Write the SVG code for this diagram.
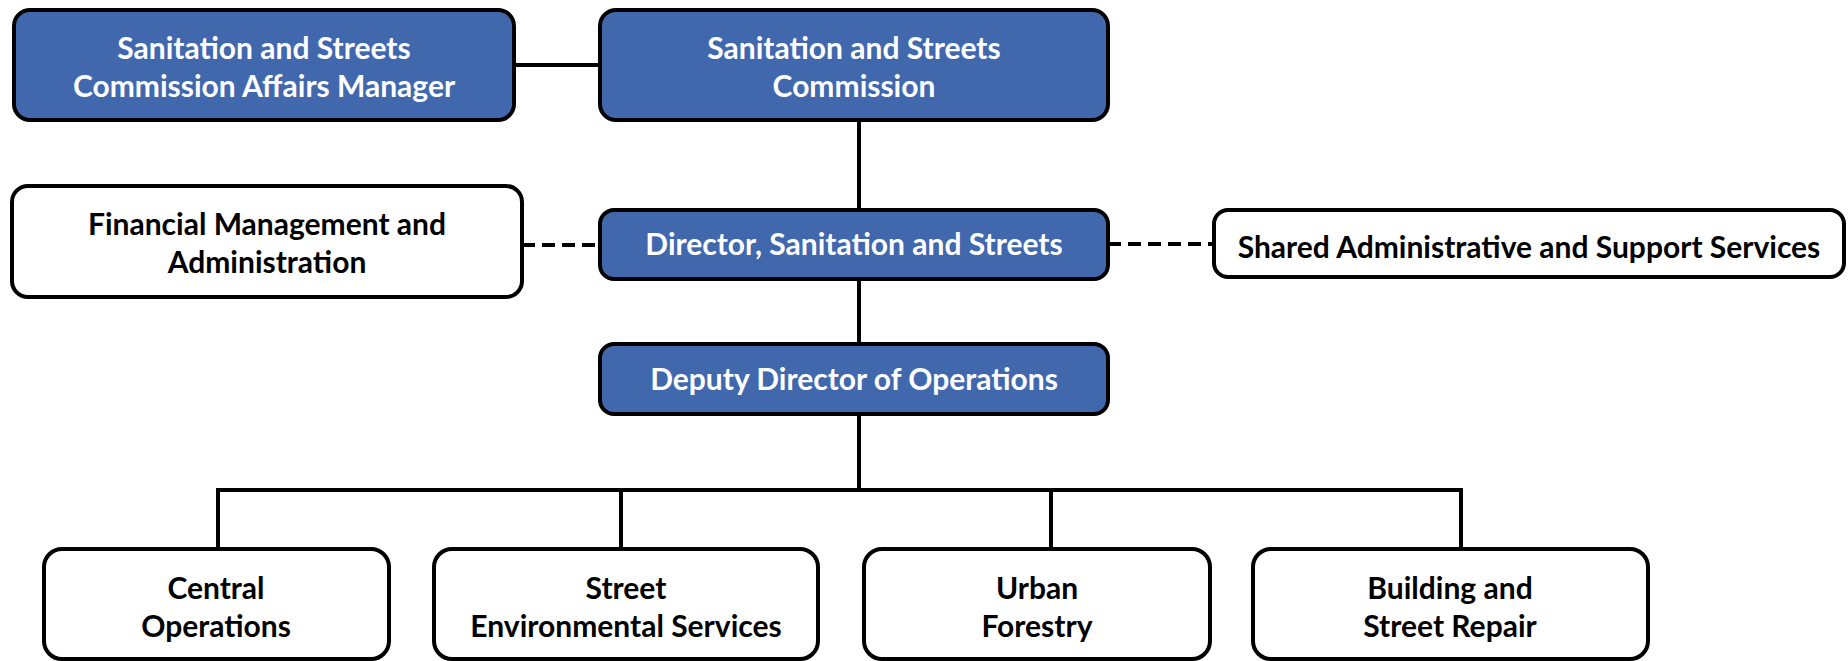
<svg xmlns="http://www.w3.org/2000/svg" width="1848" height="661" viewBox="0 0 1848 661">
<style>
.box{stroke:#000;stroke-width:4}
.blue{fill:#4168AD}
.white{fill:#fff}
.t{font-family:Lato,"Open Sans","Liberation Sans",sans-serif;font-weight:bold;font-size:30px;text-anchor:middle;dominant-baseline:central}
.tw{fill:#fff}
.tb{fill:#000}
.c{stroke:#000;stroke-width:4;fill:none}
.d{stroke-dasharray:13 7}
</style>
<rect width="1848" height="661" fill="#fff"/>
<g id="connectors">
<line class="c" x1="514" y1="65" x2="600" y2="65"/>
<line class="c" x1="859" y1="120" x2="859" y2="209"/>
<line class="c" x1="859" y1="279" x2="859" y2="343"/>
<line class="c d" x1="522" y1="245" x2="600" y2="245"/>
<line class="c d" x1="1108" y1="244" x2="1214" y2="244"/>
<line class="c" x1="859" y1="414" x2="859" y2="490"/>
<polyline class="c" points="218,549 218,490 1461,490 1461,549"/>
<line class="c" x1="621" y1="490" x2="621" y2="549"/>
<line class="c" x1="1051" y1="490" x2="1051" y2="549"/>
</g>
<g id="affairs-manager">
<rect class="box blue" x="14" y="10" width="500" height="110" rx="16"/>
<text class="t tw" x="264" y="47">Sanitation and Streets</text>
<text class="t tw" x="264" y="85">Commission Affairs Manager</text>
</g>
<g id="commission">
<rect class="box blue" x="600" y="10" width="508" height="110" rx="16"/>
<text class="t tw" x="854" y="47">Sanitation and Streets</text>
<text class="t tw" x="854" y="85">Commission</text>
</g>
<g id="financial">
<rect class="box white" x="12" y="186" width="510" height="111" rx="16"/>
<text class="t tb" x="267" y="223">Financial Management and</text>
<text class="t tb" x="267" y="261">Administration</text>
</g>
<g id="director">
<rect class="box blue" x="600" y="210" width="508" height="69" rx="14"/>
<text class="t tw" x="854" y="243">Director, Sanitation and Streets</text>
</g>
<g id="shared">
<rect class="box white" x="1214" y="210" width="630" height="67" rx="14"/>
<text class="t tb" x="1529" y="246">Shared Administrative and Support Services</text>
</g>
<g id="deputy">
<rect class="box blue" x="600" y="344" width="508" height="70" rx="14"/>
<text class="t tw" x="854" y="378">Deputy Director of Operations</text>
</g>
<g id="central">
<rect class="box white" x="44" y="549" width="345" height="110" rx="18"/>
<text class="t tb" x="216" y="587">Central</text>
<text class="t tb" x="216" y="625">Operations</text>
</g>
<g id="street-env">
<rect class="box white" x="434" y="549" width="384" height="110" rx="18"/>
<text class="t tb" x="626" y="587">Street</text>
<text class="t tb" x="626" y="625">Environmental Services</text>
</g>
<g id="urban">
<rect class="box white" x="864" y="549" width="346" height="110" rx="18"/>
<text class="t tb" x="1037" y="587">Urban</text>
<text class="t tb" x="1037" y="625">Forestry</text>
</g>
<g id="building">
<rect class="box white" x="1253" y="549" width="395" height="110" rx="18"/>
<text class="t tb" x="1450" y="587">Building and</text>
<text class="t tb" x="1450" y="625">Street Repair</text>
</g>
</svg>
